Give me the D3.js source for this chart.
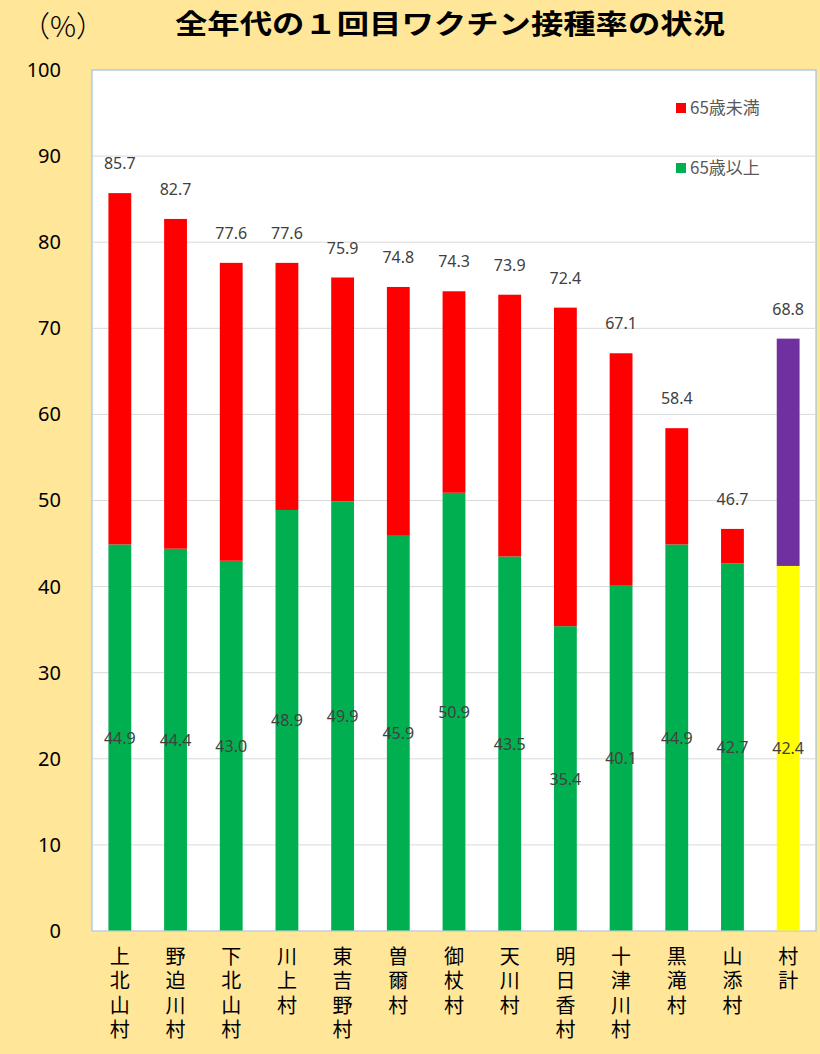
<!DOCTYPE html>
<html><head><meta charset="utf-8">
<script src="https://cdn.jsdelivr.net/npm/d3@7"></script>
<style>
html,body{margin:0;padding:0;background:#FFE699;}
svg{display:block;font-family:"Noto Sans CJK JP","Noto Sans",sans-serif;}
.vt{writing-mode:vertical-rl;text-orientation:upright;}
</style></head><body>
<svg id="c" width="820" height="1054"></svg>
<script>
const categories = ["上北山村","野迫川村","下北山村","川上村","東吉野村","曽爾村","御杖村","天川村","明日香村","十津川村","黒滝村","山添村","村計"];
const over65 = [44.9,44.4,43.0,48.9,49.9,45.9,50.9,43.5,35.4,40.1,44.9,42.7,42.4];
const under65 = [40.8,38.3,34.6,28.7,26.0,28.9,23.4,30.4,37.0,27.0,13.5,4.0,26.4];
const totals = [85.7,82.7,77.6,77.6,75.9,74.8,74.3,73.9,72.4,67.1,58.4,46.7,68.8];
const yTicks = [0,10,20,30,40,50,60,70,80,90,100];
const seriesNames = ["65歳未満","65歳以上"];

const svg = d3.select("#c");
const L=92, R=816, T=70, B=931;
const x = d3.scaleBand().domain(categories).range([L,R]).paddingInner(0.59).paddingOuter(0.295);
const y = d3.scaleLinear().domain([0,100]).range([B,T]);

svg.append("rect").attr("x",L).attr("y",T).attr("width",R-L).attr("height",B-T)
  .attr("fill","#fff").attr("stroke","#9DC3E6").attr("stroke-width",1.2);

// gridlines
svg.append("g").selectAll("line").data(yTicks.filter(d=>d>0&&d<100)).join("line")
  .attr("x1",L).attr("x2",R).attr("y1",d=>y(d)).attr("y2",d=>y(d))
  .attr("stroke","#D9D9D9").attr("stroke-width",1);

// y axis
const ya = svg.append("g").attr("transform",`translate(${L},0)`)
  .call(d3.axisLeft(y).tickValues(yTicks).tickSize(0).tickPadding(31));
ya.select(".domain").remove();
ya.selectAll("text").attr("font-size",20).attr("fill","#000")
  .attr("font-family","'Noto Sans','Noto Sans CJK JP',sans-serif");

// bars
const isTotal = (i)=> i===categories.length-1;
svg.append("g").selectAll("rect").data(categories).join("rect")
  .attr("x",d=>x(d)).attr("width",x.bandwidth())
  .attr("y",(d,i)=>y(over65[i])).attr("height",(d,i)=>y(0)-y(over65[i]))
  .attr("fill",(d,i)=>isTotal(i)?"#FFFF00":"#00B050");
svg.append("g").selectAll("rect").data(categories).join("rect")
  .attr("x",d=>x(d)).attr("width",x.bandwidth())
  .attr("y",(d,i)=>y(over65[i]+under65[i])).attr("height",(d,i)=>y(over65[i])-y(over65[i]+under65[i]))
  .attr("fill",(d,i)=>isTotal(i)?"#7030A0":"#FF0000");

// bottom axis line
svg.append("line").attr("x1",L).attr("x2",R).attr("y1",B).attr("y2",B).attr("stroke","#D9D9D9");

// value labels
const lblFont = "'Noto Sans','Noto Sans CJK JP',sans-serif";
svg.append("g").selectAll("text").data(categories).join("text")
  .attr("x",d=>x(d)+x.bandwidth()/2).attr("y",(d,i)=>y(over65[i]/2)+6)
  .attr("text-anchor","middle").attr("font-size",16).attr("fill","#404040")
  .attr("font-family",lblFont).text((d,i)=>over65[i].toFixed(1));
svg.append("g").selectAll("text").data(categories).join("text")
  .attr("x",d=>x(d)+x.bandwidth()/2).attr("y",(d,i)=>y(totals[i])-24)
  .attr("text-anchor","middle").attr("font-size",16).attr("fill","#404040")
  .attr("font-family",lblFont).text((d,i)=>totals[i].toFixed(1));

// x labels (vertical)
svg.append("g").selectAll("text").data(categories).join("text")
  .attr("class","vt")
  .attr("x",d=>x(d)+x.bandwidth()/2).attr("y",946)
  .attr("font-size",20).attr("letter-spacing",4.5).attr("fill","#000")
  .text(d=>d);

// legend
const lg = svg.append("g");
const legColors=["#FF0000","#00B050"], legY=[108,168];
seriesNames.forEach((n,i)=>{
  lg.append("rect").attr("x",676).attr("y",legY[i]-5).attr("width",10).attr("height",10).attr("fill",legColors[i]);
  lg.append("text").attr("x",690).attr("y",legY[i]+6).attr("font-size",17).attr("fill","#595959").text(n);
});

// title & unit
svg.append("text").attr("x",450).attr("y",34).attr("text-anchor","middle")
  .attr("font-size",27).attr("font-weight","bold").attr("fill","#000")
  .attr("textLength",550).attr("lengthAdjust","spacingAndGlyphs")
  .text("全年代の１回目ワクチン接種率の状況");
svg.append("text").attr("x",63).attr("y",37).attr("text-anchor","middle")
  .attr("font-size",29).attr("font-weight",300).attr("fill","#000").text("（%）");
</script></body></html>
